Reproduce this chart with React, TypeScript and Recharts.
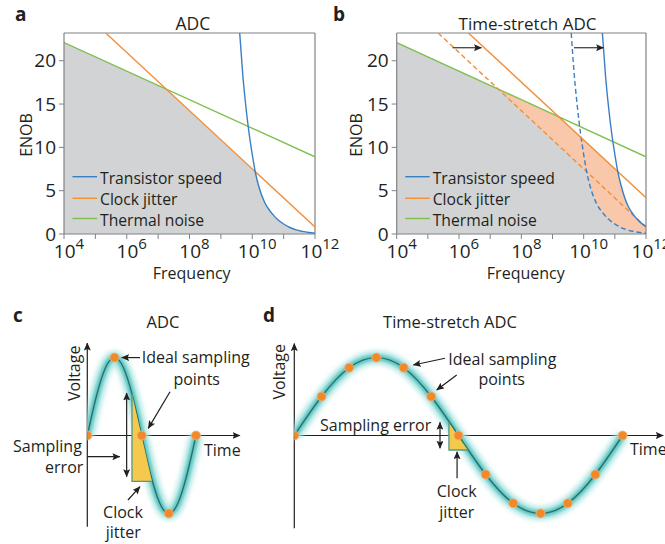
import React from "react";
import { ComposedChart, Line, Area, XAxis, YAxis, ReferenceLine } from "recharts";

const FONT = "'Open Sans', 'Noto Sans', sans-serif";
const INK = "#231f20";
const AXIS = "#808285";
const BLUE = "#3a7fc3";
const ORANGE = "#f0903b";
const GREEN = "#7dbf4e";
const GREY_FILL = "#d1d3d4";
const PEACH = "#f9c7a9";
const TEAL_LINE = "#2f6f6b";
const DOT = "#f0892a";
const YELLOW = "#f5c94c";

// ENOB panels (x = log10 of frequency)
const decades = [4, 5, 6, 7, 8, 9, 10, 11, 12];
const labelledDecades = [4, 6, 8, 10, 12];
const enobTicks = [0, 5, 10, 15, 20];
const ENOB_MAX = 23.2;

const thermalLogF = [4, 12];
const thermalEnob = [22.1, 8.9];
const jitterLogF = [5.33, 12];
const jitterEnob = [23.2, 0.8];
const jitterTsLogF = [6.3, 12];
const jitterTsEnob = [23.2, 4.2];
const speedLogF = [9.6, 9.7, 9.8, 9.9, 10.0, 10.1, 10.2, 10.4, 10.6, 10.8, 11.0, 11.2, 11.4, 11.6, 11.8, 12];
const speedEnob = [23.2, 18.3, 14.6, 11.6, 9.2, 7.1, 5.6, 3.6, 2.5, 1.7, 1.15, 0.75, 0.47, 0.3, 0.17, 0.08];
const speedTsLogF = [10.6, 10.7, 10.8, 10.9, 11.0, 11.1, 11.2, 11.4, 11.6, 11.8, 12];
const speedTsEnob = [23.2, 18.3, 14.6, 11.6, 9.2, 7.1, 5.6, 3.4, 2.2, 1.4, 0.85];

const shiftArrowEnob = 21.5;
const jitterShift = [5.79, 6.72];
const speedShift = [9.69, 10.64];

const legendNames = ["Transistor speed", "Clock jitter", "Thermal noise"];
const legendColors = [BLUE, ORANGE, GREEN];

// waveform samples (fraction of period, normalised voltage)
const wavePhase = [0, 0.083, 0.167, 0.25, 0.333, 0.417, 0.5, 0.583, 0.667, 0.75, 0.833, 0.917, 1];
const waveVolt = [0, 0.5, 0.87, 1, 0.87, 0.5, 0, -0.5, -0.87, -1, -0.87, -0.5, 0];
const adcSampleIdx = [0, 3, 6, 9, 12];
const tsSampleIdx = [0, 1, 2, 3, 4, 5, 6, 7, 8, 9, 10, 11, 12];

const pts = (xs: number[], ys: number[]) => xs.map((x, i) => ({ x, y: ys[i] }));

const interp = (xs: number[], ys: number[], x: number) => {
  if (x < xs[0]) return Infinity;
  for (let i = 1; i < xs.length; i++) {
    if (x <= xs[i]) {
      const f = (x - xs[i - 1]) / (xs[i] - xs[i - 1]);
      return ys[i - 1] + f * (ys[i] - ys[i - 1]);
    }
  }
  return ys[ys.length - 1];
};

const grid: number[] = [];
for (let i = 0; i <= 800; i++) grid.push(4 + i * 0.01);

const envelope = (curves: [number[], number[]][]) =>
  grid.map((x) => ({ x, y: Math.min(ENOB_MAX, ...curves.map(([xs, ys]) => interp(xs, ys, x))) }));

const baseEnvelope = envelope([[thermalLogF, thermalEnob], [jitterLogF, jitterEnob], [speedLogF, speedEnob]]);
const stretchedEnvelope = envelope([[thermalLogF, thermalEnob], [jitterTsLogF, jitterTsEnob], [speedTsLogF, speedTsEnob]]);

const arrowShape = (both: boolean, color = INK) => (p: any) => (
  <line
    x1={p.x1}
    y1={p.y1}
    x2={p.x2}
    y2={p.y2}
    stroke={color}
    strokeWidth={1.2}
    markerEnd="url(#arrowHead)"
    markerStart={both ? "url(#arrowHead)" : undefined}
  />
);

// jitter triangle: vertical edge at the first point, bottom edge at the second
const triangleShape = (p: any) => (
  <g>
    <polygon points={`${p.x1},${p.y1} ${p.x2},${p.y2} ${p.x1},${p.y2}`} fill={YELLOW} />
    <polyline points={`${p.x1},${p.y1} ${p.x1},${p.y2} ${p.x2},${p.y2}`} fill="none" stroke="#4f9a8c" strokeWidth={1.3} />
  </g>
);

const DecadeTick = ({ x, y, payload }: any) =>
  labelledDecades.includes(payload.value) ? (
    <text x={x + 5} y={y + 17} textAnchor="middle" fontFamily={FONT} fontSize={19} fill={INK}>
      10
      <tspan dy={-9} fontSize={15}>
        {payload.value}
      </tspan>
    </text>
  ) : (
    <g />
  );

function EnobPanel({ left, width, plotLeft, plotRight, stretched }: any) {
  return (
    <div style={{ position: "absolute", left, top: 0 }}>
      <ComposedChart
        width={width}
        height={290}
        margin={{ top: 33, right: width - plotRight, bottom: 26, left: plotLeft - 30 }}
      >
        <XAxis
          type="number"
          dataKey="x"
          domain={[4, 12]}
          ticks={decades}
          interval={0}
          allowDataOverflow
          height={30}
          tickSize={5}
          tickLine={{ stroke: AXIS }}
          axisLine={{ stroke: AXIS, strokeWidth: 1.2 }}
          tick={<DecadeTick />}
        />
        <YAxis
          type="number"
          dataKey="y"
          domain={[0, ENOB_MAX]}
          ticks={enobTicks}
          allowDataOverflow
          width={30}
          tickSize={5}
          tickMargin={3}
          tickLine={{ stroke: AXIS }}
          axisLine={{ stroke: AXIS, strokeWidth: 1.2 }}
          tick={{ fontSize: 19, fill: INK, fontFamily: FONT }}
        />
        {stretched && (
          <Area data={stretchedEnvelope} dataKey="y" type="linear" stroke="none" fill={PEACH} fillOpacity={1} baseValue={0} isAnimationActive={false} />
        )}
        <Area data={baseEnvelope} dataKey="y" type="linear" stroke="none" fill={GREY_FILL} fillOpacity={1} baseValue={0} isAnimationActive={false} />
        <ReferenceLine y={ENOB_MAX} stroke={AXIS} strokeWidth={1.2} />
        <ReferenceLine x={12} stroke={AXIS} strokeWidth={1.2} />
        <Line data={pts(thermalLogF, thermalEnob)} dataKey="y" type="linear" stroke={GREEN} strokeWidth={1.4} dot={false} isAnimationActive={false} />
        <Line
          data={pts(jitterLogF, jitterEnob)}
          dataKey="y"
          type="linear"
          stroke={ORANGE}
          strokeWidth={1.4}
          strokeDasharray={stretched ? "5 3" : undefined}
          dot={false}
          isAnimationActive={false}
        />
        <Line
          data={pts(speedLogF, speedEnob)}
          dataKey="y"
          type="monotone"
          stroke={BLUE}
          strokeWidth={1.4}
          strokeDasharray={stretched ? "5 3" : undefined}
          dot={false}
          isAnimationActive={false}
        />
        {stretched && (
          <Line data={pts(jitterTsLogF, jitterTsEnob)} dataKey="y" type="linear" stroke={ORANGE} strokeWidth={1.4} dot={false} isAnimationActive={false} />
        )}
        {stretched && (
          <Line data={pts(speedTsLogF, speedTsEnob)} dataKey="y" type="monotone" stroke={BLUE} strokeWidth={1.4} dot={false} isAnimationActive={false} />
        )}
        {stretched &&
          [jitterShift, speedShift].map((s, i) => (
            <ReferenceLine
              key={i}
              segment={[
                { x: s[0], y: shiftArrowEnob },
                { x: s[1], y: shiftArrowEnob },
              ]}
              ifOverflow="visible"
              shape={arrowShape(false, "#333")}
            />
          ))}
      </ComposedChart>
    </div>
  );
}

const adcConfig = {
  left: 0,
  width: 260,
  plotLeft: 87.3,
  xMax: 1.42,
  pxPerPeriod: 108.7,
  samples: adcSampleIdx,
  xAxisEnd: 1.405,
  yAxisTop: 1.187,
  yAxisBottom: -1.17,
  triangle: [0.411, 0.53, 0.595, -0.59],
  errorArrow: [0.362, 0.546, 0.362, -0.529],
  arrows: [
    [0, -0.272, 0.3, -0.272],
    [0.485, 1.0, 0.316, 1.0],
    [0.761, 0.562, 0.561, 0.092],
    [0.374, -0.828, 0.485, -0.657],
  ],
};

const tsConfig = {
  left: 255,
  width: 410,
  plotLeft: 39.3,
  xMax: 1.129,
  pxPerPeriod: 328.3,
  samples: tsSampleIdx,
  xAxisEnd: 1.124,
  yAxisTop: 1.18,
  yAxisBottom: -1.19,
  triangle: [0.471, 0.16, 0.528, -0.186],
  errorArrow: [0.4438, 0.169, 0.4438, -0.164],
  arrows: [
    [0.459, 0.991, 0.3625, 0.905],
    [0.4947, 0.777, 0.4337, 0.584],
    [0.4958, -0.549, 0.4958, -0.208],
  ],
};

function WavePanel({ cfg }: any) {
  const wave = wavePhase.map((t, i) => ({ t, v: waveVolt[i] }));
  const dots = cfg.samples.map((i: number) => ({ t: wavePhase[i], v: waveVolt[i] }));
  const seg = (s: number[]) => [
    { x: s[0], y: s[1] },
    { x: s[2], y: s[3] },
  ];
  const right = Math.max(0, cfg.width - cfg.plotLeft - cfg.xMax * cfg.pxPerPeriod);
  return (
    <div style={{ position: "absolute", left: cfg.left, top: 300 }}>
      <ComposedChart width={cfg.width} height={244} margin={{ top: 42, right, bottom: 15, left: cfg.plotLeft }}>
        <XAxis type="number" dataKey="t" domain={[0, cfg.xMax]} hide allowDataOverflow />
        <YAxis type="number" dataKey="v" domain={[-1.2, 1.2]} hide allowDataOverflow />
        <ReferenceLine segment={seg([0, 0, cfg.xAxisEnd, 0])} ifOverflow="visible" shape={arrowShape(false)} />
        <ReferenceLine segment={seg([0, cfg.yAxisBottom, 0, cfg.yAxisTop])} ifOverflow="visible" shape={arrowShape(false)} />
        <Line className="glow-wide" data={wave} dataKey="v" type="natural" stroke="#a9e4e1" strokeWidth={13} dot={false} isAnimationActive={false} />
        <Line className="glow-core" data={wave} dataKey="v" type="natural" stroke="#62c8c4" strokeWidth={6} dot={false} isAnimationActive={false} />
        <Line data={wave} dataKey="v" type="natural" stroke={TEAL_LINE} strokeWidth={1.4} dot={false} isAnimationActive={false} />
        <Line data={dots} dataKey="v" type="linear" stroke="none" dot={{ r: 4.5, fill: DOT, stroke: "#f7b27a", strokeWidth: 0.8 }} isAnimationActive={false} />
        <ReferenceLine segment={seg(cfg.triangle)} ifOverflow="visible" shape={triangleShape} />
        <ReferenceLine segment={seg(cfg.errorArrow)} ifOverflow="visible" shape={arrowShape(true)} />
        {cfg.arrows.map((a: number[], i: number) => (
          <ReferenceLine key={i} segment={seg(a)} ifOverflow="visible" shape={arrowShape(false)} />
        ))}
      </ComposedChart>
    </div>
  );
}

function Overlay() {
  const legend = (plotLeft: number) =>
    legendNames.map((name, i) => {
      const y = [176.7, 198.3, 218.5][i];
      return (
        <g key={name}>
          <line x1={plotLeft + 8.5} x2={plotLeft + 33} y1={y} y2={y} stroke={legendColors[i]} strokeWidth={1.4} />
          <text x={plotLeft + 36} y={y + 7} fontSize={15.7}>
            {name}
          </text>
        </g>
      );
    });
  return (
    <svg width={665} height={544} style={{ position: "absolute", left: 0, top: 0, pointerEvents: "none" }} fontFamily={FONT} fill={INK}>
      <defs>
        <marker id="arrowHead" viewBox="0 0 8 7" refX={7.5} refY={3.5} markerWidth={8} markerHeight={7} markerUnits="userSpaceOnUse" orient="auto-start-reverse">
          <path d="M0,0 L8,3.5 L0,7 L1.5,3.5 z" fill={INK} />
        </marker>
      </defs>
      {/* panel letters */}
      <text x={15} y={20.5} fontSize={19} fontWeight={700}>a</text>
      <text x={333} y={20.5} fontSize={19} fontWeight={700}>b</text>
      <text x={13} y={322} fontSize={19} fontWeight={700}>c</text>
      <text x={263} y={322} fontSize={19} fontWeight={700}>d</text>
      {/* ENOB panels */}
      <text x={192.8} y={30} fontSize={17.5} textAnchor="middle">ADC</text>
      <text x={527.5} y={30} fontSize={17} textAnchor="middle">Time-stretch ADC</text>
      <text transform="translate(31.5,135) rotate(-90)" fontSize={16} textAnchor="middle">ENOB</text>
      <text transform="translate(361.7,135) rotate(-90)" fontSize={16} textAnchor="middle">ENOB</text>
      <text x={191.7} y={278.5} fontSize={16} textAnchor="middle">Frequency</text>
      <text x={525.8} y={278.5} fontSize={16} textAnchor="middle">Frequency</text>
      {legend(64)}
      {legend(396.7)}
      {/* panel c */}
      <text x={163} y={328} fontSize={16.5} textAnchor="middle">ADC</text>
      <text transform="translate(80,373.3) rotate(-90)" fontSize={16} textAnchor="middle">Voltage</text>
      <text x={141.7} y={363.3} fontSize={16}>Ideal sampling</text>
      <text x={196.7} y={385} fontSize={16} textAnchor="middle">points</text>
      <text x={13} y={451.7} fontSize={16}>Sampling</text>
      <text x={83.3} y={473.3} fontSize={16} textAnchor="end">error</text>
      <text x={204} y={455.7} fontSize={16}>Time</text>
      <text x={123} y={518.3} fontSize={16} textAnchor="middle">Clock</text>
      <text x={123.3} y={538.3} fontSize={16} textAnchor="middle">jitter</text>
      {/* panel d */}
      <text x={450} y={328} fontSize={16.5} textAnchor="middle">Time-stretch ADC</text>
      <text transform="translate(285,371.7) rotate(-90)" fontSize={16} textAnchor="middle">Voltage</text>
      <text x={448.3} y={365} fontSize={16}>Ideal sampling</text>
      <text x={501.7} y={385} fontSize={16} textAnchor="middle">points</text>
      <text x={320} y={430.7} fontSize={16}>Sampling error</text>
      <text x={456.7} y={496.7} fontSize={16} textAnchor="middle">Clock</text>
      <text x={456.7} y={518.3} fontSize={16} textAnchor="middle">jitter</text>
      <text x={630} y={455} fontSize={16}>Time</text>
    </svg>
  );
}

export default function App() {
  return (
    <div style={{ position: "absolute", left: 0, top: 0, width: 665, height: 544, background: "#fff", overflow: "hidden", fontFamily: FONT }}>
      <style>{`.glow-wide path{filter:blur(2.5px)} .glow-core path{filter:blur(1.2px)}`}</style>
      <EnobPanel left={0} width={345} plotLeft={64} plotRight={315} stretched={false} />
      <EnobPanel left={332} width={333} plotLeft={64.7} plotRight={314} stretched />
      <WavePanel cfg={adcConfig} />
      <WavePanel cfg={tsConfig} />
      <Overlay />
    </div>
  );
}
